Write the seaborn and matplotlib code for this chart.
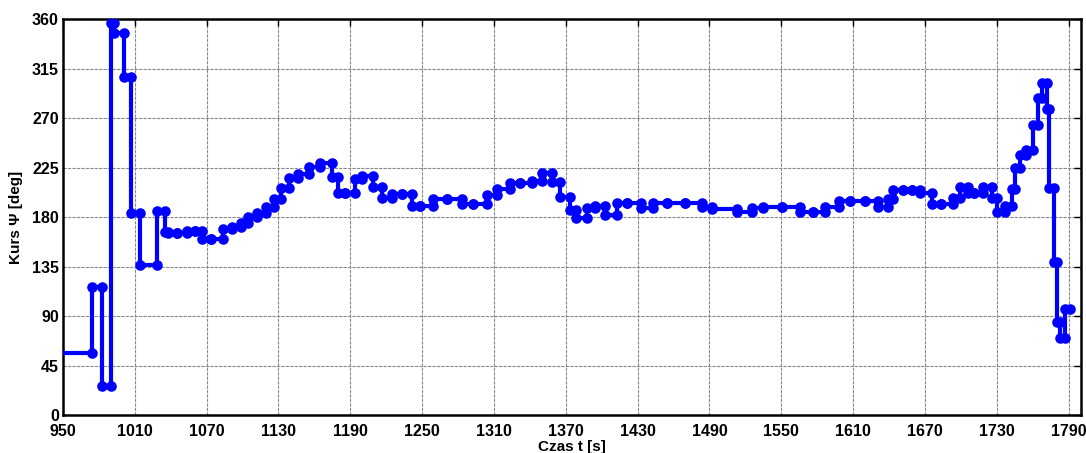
import numpy as np
import pandas as pd
import matplotlib
matplotlib.use("Agg")
import matplotlib.pyplot as plt
import seaborn as sns

# Segment boundaries [s] and heading held over each segment [deg]
t_edges = [950, 974.4, 982.7, 990.0, 992.8, 1000.9, 1006.5, 1014.2, 1028.2, 1035.1,
           1037.9, 1044.9, 1053.3, 1060.2, 1065.8, 1073.3, 1083.3, 1091.1, 1098.4, 1104.7,
           1111.7, 1119.5, 1126.2, 1132.0, 1139.0, 1146.5, 1155.4, 1164.6, 1174.4, 1179.9,
           1185.5, 1193.9, 1199.5, 1209.1, 1216.2, 1224.5, 1232.9, 1241.2, 1248.2, 1259.3,
           1270.5, 1283.0, 1292.7, 1303.9, 1312.7, 1323.4, 1331.7, 1341.5, 1349.8, 1358.2,
           1365.1, 1373.5, 1378.5, 1387.9, 1394.4, 1402.7, 1412.7, 1420.8, 1432.5, 1442.6,
           1454.8, 1469.6, 1483.5, 1491.9, 1512.7, 1525.3, 1534.5, 1550.3, 1565.6, 1576.2,
           1586.5, 1598.5, 1607.4, 1619.9, 1631.0, 1639.4, 1643.6, 1651.9, 1658.9, 1665.9,
           1675.6, 1683.2, 1693.7, 1699.3, 1706.2, 1711.0, 1718.8, 1725.8, 1730.5, 1736.9,
           1742.5, 1745.2, 1749.4, 1754.4, 1760.0, 1764.7, 1767.5, 1771.7, 1773.9, 1777.8,
           1780.1, 1782.8, 1787.0, 1791.2]

heading = [57, 116.5, 27, 357, 348, 308, 184, 137, 186, 167,
           165.6, 165.6, 168, 168, 160.3, 160.3, 169.5, 171.6, 174.7, 180.7,
           184.4, 189.8, 196.5, 206.5, 215.6, 219.5, 225.6, 229.8, 216.5, 202.5,
           202.5, 214.7, 218, 208, 197.4, 201.4, 201.4, 190.5, 190.5, 196.5,
           196.5, 192.3, 192.3, 200.5, 205.6, 211, 211, 213, 220.2, 212.6,
           199, 187, 179.2, 188.3, 190.5, 182.5, 193, 193, 188.5, 193,
           193, 193, 189.8, 187.4, 185, 188.3, 189.3, 189.3, 185.3, 185.3,
           189.8, 195, 195, 195, 189.8, 196.5, 205.3, 205.3, 205.3, 202.5,
           192.6, 192.6, 197.4, 208, 202.3, 202.3, 208, 197.4, 185.3, 190.5,
           205.6, 224.7, 237, 241, 264, 289, 302, 278.4, 206.5, 139.8,
           85.3, 70.2, 96.5]

x_ticks = list(range(950, 1791, 60))
y_ticks = list(range(0, 361, 45))

assert len(heading) == len(t_edges) - 1

# Build the step path: each segment is drawn from its start to its end time
px, py = [], []
for k, h in enumerate(heading):
    px += [t_edges[k], t_edges[k + 1]]
    py += [h, h]
df = pd.DataFrame({"t": px, "psi": py})

sns.set_style("white")
plt.rcParams["font.family"] = ["Liberation Sans", "DejaVu Sans"]

fig = plt.figure(figsize=(10.86, 4.53), dpi=100)
ax = fig.add_axes([0.058, 0.083, 0.937, 0.874])

blue = "#0000FF"
sns.lineplot(data=df, x="t", y="psi", sort=False, estimator=None, ax=ax,
             color=blue, linewidth=3.0, zorder=3)
sns.scatterplot(data=df.iloc[1:], x="t", y="psi", ax=ax, color=blue,
                s=58, edgecolor=blue, linewidth=0, zorder=4)

ax.set_xlim(950, 1800)
ax.set_ylim(0, 360)
ax.set_xticks(x_ticks)
ax.set_yticks(y_ticks)
ax.grid(True, color="#8a8a8a", linestyle=(0, (3, 1)), linewidth=0.8, zorder=0)
ax.tick_params(axis="both", direction="in", length=5, width=1, top=True, right=True,
               labelsize=11.5, colors="black")
ax.tick_params(axis="x", pad=6)
ax.tick_params(axis="y", pad=3)
for lab in ax.get_xticklabels() + ax.get_yticklabels():
    lab.set_fontweight("bold")
for sp in ax.spines.values():
    sp.set_color("black")
    sp.set_linewidth(1.8)
    sp.set_visible(True)

ax.set_xlabel("Czas t [s]", fontsize=11, fontweight="bold", labelpad=1, color="black")
ax.set_ylabel("Kurs Ψ [deg]", fontsize=11, fontweight="bold", labelpad=6, color="black")

fig.savefig("out.png", dpi=100)
